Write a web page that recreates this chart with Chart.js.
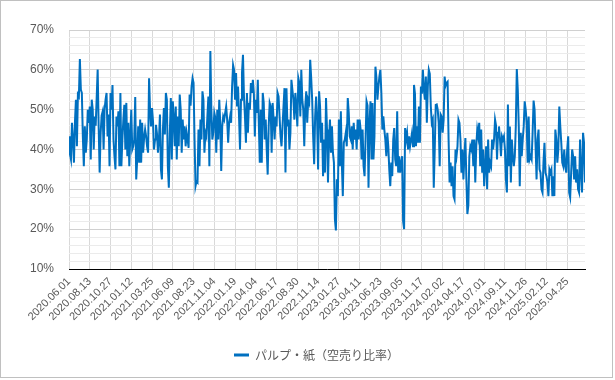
<!DOCTYPE html>
<html><head><meta charset="utf-8">
<script src="https://cdn.jsdelivr.net/npm/chart.js@4.4.1/dist/chart.umd.min.js"></script>
<style>html,body{margin:0;padding:0;background:#fff;}canvas{display:block;}</style>
</head><body>
<canvas id="c" width="615" height="380" style="width:615px;height:380px"></canvas>
<script>
const seriesName = 'パルプ・紙（空売り比率）';
const tickLabels = ['2020.06.01','2020.08.13','2020.10.27','2021.01.12','2021.03.25','2021.06.09','2021.08.23','2021.11.04','2022.01.19','2022.04.04','2022.06.17','2022.08.30','2022.11.14','2023.01.27','2023.04.11','2023.06.23','2023.09.05','2023.11.17','2024.02.02','2024.04.17','2024.07.01','2024.09.11','2024.11.26','2025.02.12','2025.04.25'];
const tickEvery = 50;       // trading days between labels
const lastDayIndex = 1243;  // trading-day index of the last reading
// short-selling ratio (%)
const shortRatio = [
43.3,38.8,37.5,46.7,42.5,36.7,46.7,52.5,40.8,53.8,53.3,62.7,55.0,54.2,43.3,35.8,45.8,39.2,42.5,50.0,46.7,50.8,37.5,52.5,50.0,40.0,48.3,46.0,52.9,60.1,45.8,34.2,44.0,48.5,49.5,40.0,50.0,52.5,54.2,43.3,48.8,35.8,54.2,50.0,56.2,42.5,38.3,35.0,48.3,45.8,49.6,35.8,54.2,35.8,42.5,47.5,51.2,40.0,51.7,38.3,46.7,35.8,43.3,50.0,40.0,40.8,42.5,53.2,32.5,37.5,45.8,36.7,
47.5,36.7,46.7,39.2,43.0,45.0,43.3,40.8,39.2,57.9,50.0,45.8,50.4,47.0,40.0,42.5,46.2,44.0,39.2,42.5,48.8,35.0,32.5,45.0,50.4,43.8,54.2,52.5,35.8,30.4,44.2,52.9,37.5,52.1,48.0,40.8,50.8,37.5,48.3,40.8,53.8,50.0,39.2,47.5,42.5,45.8,40.8,44.2,42.5,40.4,53.8,51.0,55.8,57.9,56.7,42.5,30.8,32.0,31.7,45.0,35.8,47.5,42.5,54.6,52.5,39.2,44.2,43.3,48.3,53.3,35.8,64.7,50.0,42.5,
44.2,49.2,48.0,39.2,50.0,42.5,52.5,46.7,34.6,45.8,48.3,47.5,49.2,50.8,47.5,41.7,46.7,48.3,46.7,55.8,61.2,60.0,52.5,59.2,50.8,55.8,48.3,40.0,52.5,59.2,63.8,53.3,48.3,41.7,54.2,44.2,51.7,50.0,56.7,54.2,57.5,54.2,43.3,52.5,49.2,57.5,46.7,36.7,50.0,36.7,54.2,51.7,42.5,47.5,40.0,33.7,45.8,51.7,50.8,39.2,51.7,47.5,42.5,48.3,45.8,54.2,53.3,48.3,43.3,40.8,45.8,50.8,55.4,
34.2,55.4,45.8,47.5,40.0,44.2,57.5,55.0,52.5,47.5,54.2,50.8,45.8,57.9,56.7,48.3,60.0,52.5,50.0,40.8,50.8,54.6,46.7,52.5,51.7,62.5,58.0,52.5,43.3,36.3,48.3,53.3,47.5,35.0,54.6,50.8,41.7,46.7,33.3,42.5,34.2,52.9,45.0,31.7,42.5,47.5,39.2,45.8,39.2,36.7,22.5,19.7,32.5,28.3,47.5,35.8,49.6,36.7,28.3,41.7,42.5,44.2,40.8,52.9,49.2,43.3,42.5,45.8,40.0,46.7,42.5,45.0,40.0,47.5,42.5,47.5,
45.0,37.5,45.0,35.8,33.3,42.5,52.1,51.0,30.4,46.7,52.1,37.5,51.7,37.5,43.3,60.8,58.0,52.5,55.8,58.3,60.0,54.2,45.0,48.3,45.0,42.5,38.3,44.2,40.8,35.0,30.8,36.7,33.3,42.5,45.4,37.5,35.8,49.6,34.2,38.3,34.2,36.7,38.3,22.0,20.0,45.4,42.5,44.2,40.0,43.3,40.8,42.5,44.2,40.8,56.2,54.0,40.8,45.8,41.7,50.8,41.7,55.8,54.0,60.0,55.0,52.5,58.3,46.7,55.8,60.0,59.0,50.8,46.7,47.5,30.4,40.0,
51.2,51.3,50.0,46.7,35.8,48.8,48.3,44.2,47.5,58.3,56.0,56.7,57.0,42.5,31.7,36.7,30.8,35.8,28.3,27.5,40.0,38.3,40.8,47.5,46.7,42.5,34.2,40.0,32.5,38.3,42.9,32.5,23.8,26.0,38.3,40.8,40.0,42.5,35.8,42.5,31.7,40.8,45.0,43.3,46.7,35.8,45.0,34.2,40.0,30.8,35.8,40.8,30.0,42.5,34.2,36.7,35.8,42.5,40.0,42.5,47.5,46.0,37.5,44.2,45.8,42.5,38.3,43.3,42.5,43.3,40.0,32.5,29.2,51.3,35.8,
45.8,31.7,42.5,38.3,35.8,38.3,45.8,60.2,55.0,45.8,30.8,44.2,38.3,42.5,45.8,52.1,50.0,46.7,36.7,48.3,37.5,38.3,37.5,44.2,52.3,50.0,40.8,32.5,42.5,45.0,35.0,34.2,30.0,29.2,36.7,41.7,34.2,33.3,31.7,28.3,35.0,34.2,35.0,28.3,33.3,28.3,45.0,42.5,36.7,40.0,50.8,45.8,41.7,36.7,35.8,40.0,35.8,34.2,40.0,43.3,29.2,28.0,34.2,40.0,38.3,32.5,38.3,31.7,35.0,30.0,29.2,42.5,34.2,29.2,44.2,41.7,31.7
];

const frame = {
  id: 'frame',
  beforeDraw(chart) {
    const c = chart.ctx;
    c.save();
    c.fillStyle = '#ffffff';
    c.fillRect(0, 0, chart.width, chart.height);
    c.strokeStyle = '#c0c0c0';
    c.lineWidth = 1;
    c.strokeRect(0.5, 0.5, chart.width - 3, chart.height - 3);
    c.restore();
  }
};
// centre the legend a little right of the canvas centre, as in the original
const legendShift = {
  id: 'legendShift',
  afterLayout(chart) {
    const lg = chart.legend;
    if (lg) { lg.left += 24; lg.right += 24; }
  }
};

const lineColor = '#0070C0';
const textColor = '#595959';
Chart.defaults.font.family = '"Liberation Sans", Arial, sans-serif';

new Chart(document.getElementById('c'), {
  type: 'line',
  data: {
    datasets: [{
      label: seriesName,
      data: shortRatio.map((v, i) => ({ x: i * lastDayIndex / (shortRatio.length - 1), y: v })),
      borderColor: lineColor,
      backgroundColor: lineColor,
      borderWidth: 2,
      pointRadius: 0,
      tension: 0,
      fill: false
    }]
  },
  options: {
    responsive: false,
    animation: false,
    layout: { padding: { left: 0, right: 30, top: 30, bottom: 9 } },
    plugins: {
      tooltip: { enabled: false },
      legend: {
        position: 'bottom',
        labels: {
          font: { family: '"Noto Sans CJK JP", sans-serif', size: 12 },
          color: textColor,
          boxWidth: 15,
          boxHeight: 3,
          padding: 10,
          generateLabels: () => [{
            text: seriesName, fillStyle: lineColor, strokeStyle: lineColor,
            lineWidth: 0, hidden: false, datasetIndex: 0, fontColor: textColor
          }]
        }
      }
    },
    scales: {
      x: {
        type: 'linear',
        min: 0,
        max: lastDayIndex,
        afterBuildTicks: (s) => { s.ticks = tickLabels.map((_, k) => ({ value: k * tickEvery })); },
        afterFit: (s) => { s.height = 70; },
        grid: { color: '#d9d9d9', drawTicks: false, lineWidth: 1 },
        border: { color: '#000000', width: 1 },
        ticks: {
          autoSkip: false, minRotation: 45, maxRotation: 45, padding: 6,
          color: textColor, font: { size: 11 },
          callback: (v) => { const k = Math.round(v / tickEvery); return tickLabels[k] ?? ''; }
        }
      },
      y: {
        min: 10,
        max: 70,
        afterFit: (s) => { s.width = 69; },
        grid: {
          drawTicks: false,
          color: (c) => Math.round(c.tick.value) % 10 === 0 ? '#d0d0d0' : '#ebebeb'
        },
        border: { display: false },
        ticks: {
          stepSize: 2, autoSkip: false, padding: 15, color: textColor, font: { size: 12 },
          callback: (v) => Math.round(v) % 10 === 0 ? Math.round(v) + '%' : ''
        }
      }
    }
  },
  plugins: [frame, legendShift]
});
</script>
</body></html>
